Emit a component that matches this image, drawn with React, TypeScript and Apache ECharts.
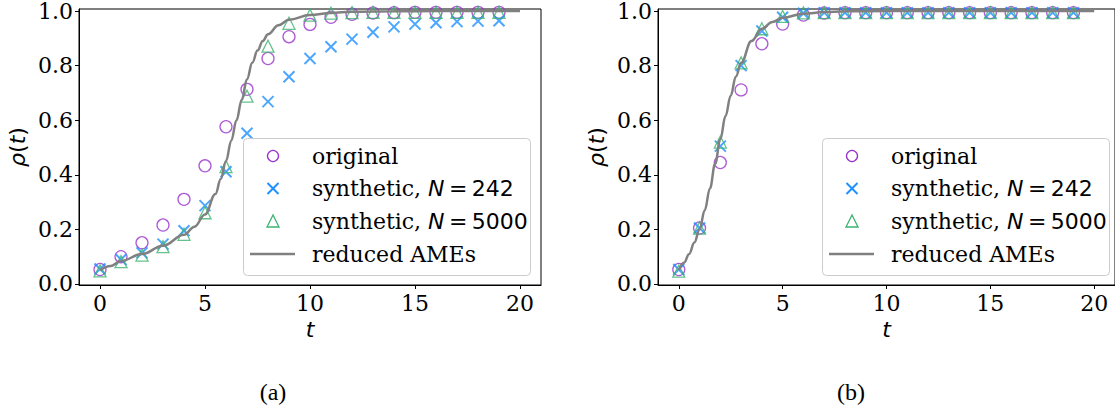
import React, { useEffect, useRef } from "react";
import * as echarts from "echarts";

const tValues = [0, 1, 2, 3, 4, 5, 6, 7, 8, 9, 10, 11, 12, 13, 14, 15, 16, 17, 18, 19];

const originalA = [0.053, 0.1, 0.151, 0.216, 0.31, 0.433, 0.576, 0.713, 0.826, 0.906, 0.951, 0.977, 0.988, 0.993, 0.994, 0.995, 0.995, 0.995, 0.995, 0.995];
const synth242A = [0.055, 0.09, 0.114, 0.146, 0.195, 0.287, 0.411, 0.552, 0.668, 0.759, 0.826, 0.869, 0.897, 0.922, 0.942, 0.952, 0.957, 0.961, 0.963, 0.964];
const synth5000A = [0.048, 0.082, 0.106, 0.137, 0.182, 0.261, 0.43, 0.688, 0.871, 0.955, 0.985, 0.992, 0.994, 0.995, 0.995, 0.995, 0.995, 0.995, 0.995, 0.995];
const amesA: [number, number][] = [
  [0, 0.05], [0.5, 0.066], [1, 0.084], [2, 0.11], [3, 0.14], [4, 0.18], [4.5, 0.21], [5, 0.255],
  [5.5, 0.33], [5.75, 0.385], [6, 0.45], [6.25, 0.525], [6.5, 0.6], [6.75, 0.675], [7, 0.75],
  [7.25, 0.81], [7.5, 0.855], [7.75, 0.89], [8, 0.915], [8.5, 0.948], [9, 0.968], [10, 0.985],
  [11, 0.993], [12, 0.997], [14, 0.999], [16, 1.0], [20, 1.0],
];

const originalB = [0.053, 0.205, 0.445, 0.711, 0.88, 0.952, 0.985, 0.993, 0.994, 0.994, 0.994, 0.994, 0.994, 0.994, 0.994, 0.994, 0.994, 0.994, 0.994, 0.994];
const synth242B = [0.053, 0.205, 0.505, 0.8, 0.927, 0.977, 0.992, 0.994, 0.994, 0.994, 0.994, 0.994, 0.994, 0.994, 0.994, 0.994, 0.994, 0.994, 0.994, 0.994];
const synth5000B = [0.047, 0.205, 0.52, 0.81, 0.935, 0.98, 0.993, 0.994, 0.994, 0.994, 0.994, 0.994, 0.994, 0.994, 0.994, 0.994, 0.994, 0.994, 0.994, 0.994];
const amesB: [number, number][] = [
  [0, 0.05], [0.25, 0.078], [0.5, 0.11], [0.75, 0.152], [1, 0.2], [1.25, 0.27], [1.5, 0.35],
  [1.75, 0.44], [2, 0.53], [2.25, 0.615], [2.5, 0.69], [2.75, 0.76], [3, 0.81], [3.5, 0.89],
  [4, 0.935], [4.5, 0.96], [5, 0.975], [6, 0.99], [7, 0.996], [8, 0.999], [10, 1.0], [20, 1.0],
];

const xTicks = [0, 5, 10, 15, 20];
const yTicks = [0, 0.2, 0.4, 0.6, 0.8, 1.0];
const legendNames = ["original", "synthetic, N = 242", "synthetic, N = 5000", "reduced AMEs"];
const sampleSizes = ["242", "5000"];
const panelLabels = ["(a)", "(b)"];

const PURPLE = "#9932CC";
const BLUE = "#1E90FF";
const GREEN = "#3CB371";
const GREY = "#808080";

const TICK_FONT = "DejaVu Serif";
const FS = 22;

export default function App() {
  const ref = useRef<HTMLDivElement>(null);
  useEffect(() => {
    if (!ref.current) return;
    const chart = echarts.init(ref.current, null, { renderer: "svg" });

    const grids = [
      { left: 79, right: 1115 - 541, top: 9, bottom: 407 - 285 },
      { left: 658, right: 1115 - 1120, top: 9, bottom: 407 - 285 },
    ];

    const mkX = (i: number) => ({
      type: "value",
      gridIndex: i,
      min: -1,
      max: 21,
      name: "t",
      nameLocation: "middle",
      nameGap: 30,
      nameTextStyle: { fontFamily: "DejaVu Sans", fontStyle: "italic", fontSize: FS, color: "#000" },
      axisLine: { show: true, onZero: false, lineStyle: { color: "#000", width: 1 } },
      axisTick: { show: true, customValues: xTicks, length: 4, lineStyle: { color: "#000" } },
      axisLabel: { customValues: xTicks, fontFamily: TICK_FONT, fontSize: FS, color: "#000", margin: 7 },
      splitLine: { show: false },
    });
    const mkY = (i: number) => ({
      type: "value",
      gridIndex: i,
      min: -0.0037,
      max: 1.0073,
      name: "{i|ρ}{n|(}{i|t}{n|)}",
      nameLocation: "middle",
      nameGap: 51,
      nameTextStyle: {
        rich: {
          i: { fontFamily: "DejaVu Sans", fontStyle: "italic", fontSize: FS, color: "#000" },
          n: { fontFamily: "DejaVu Sans", fontSize: FS, color: "#000" },
        },
      },
      axisLine: { show: true, onZero: false, lineStyle: { color: "#000", width: 1 } },
      axisTick: { show: true, customValues: yTicks, length: 4, lineStyle: { color: "#000" } },
      axisLabel: {
        customValues: yTicks,
        fontFamily: TICK_FONT,
        fontSize: FS,
        color: "#000",
        margin: 6,
        formatter: (v: number) => v.toFixed(1),
      },
      splitLine: { show: false },
    });

    const scatter = (name: string, data: number[], i: number, kind: string) => {
      const base: any = {
        type: "scatter",
        name,
        xAxisIndex: i,
        yAxisIndex: i,
        data: data.map((v, k) => [tValues[k], v]),
        z: 3,
      };
      if (kind === "circle") {
        base.symbol = "circle";
        base.symbolSize = 12;
        base.itemStyle = { color: "none", borderColor: PURPLE, borderWidth: 1.3 };
      } else if (kind === "x") {
        base.symbol = "path://M0,0L10,10M10,0L0,10";
        base.symbolSize = 11;
        base.itemStyle = { color: "none", borderColor: BLUE, borderWidth: 2 };
      } else {
        base.symbol = "triangle";
        base.symbolSize = 12;
        base.itemStyle = { color: "none", borderColor: GREEN, borderWidth: 1.3 };
      }
      return base;
    };
    const line = (data: [number, number][], i: number) => ({
      type: "line",
      name: legendNames[3],
      xAxisIndex: i,
      yAxisIndex: i,
      data,
      showSymbol: false,
      symbol: "none",
      smooth: 0.4,
      smoothMonotone: "x",
      lineStyle: { color: GREY, width: 2.5 },
      z: 4,
    });

    const legendGraphic = (dx: number) => {
      const rows = [156, 188.5, 221, 254];
      const mx = 273 + dx;
      const tx = 312 + dx;
      const textStyleFor = (idx: number) => {
        const name = legendNames[idx];
        if (idx === 1 || idx === 2) {
          const num = sampleSizes[idx - 1];
          return {
            text: `{s|synthetic, }{m|N}{r|\u2009=\u2009${num}}`,
            rich: {
              s: { fontFamily: "DejaVu Serif", fontSize: FS, fill: "#000" },
              m: { fontFamily: "DejaVu Sans", fontStyle: "italic", fontSize: FS, fill: "#000" },
              r: { fontFamily: "DejaVu Sans", fontSize: FS, fill: "#000" },
            },
          };
        }
        return { text: name, fontFamily: "DejaVu Serif", fontSize: FS, fill: "#000" };
      };
      const els: any[] = [
        {
          type: "rect",
          shape: { x: 243.5 + dx, y: 138.5, width: 287, height: 137, r: 4 },
          style: { fill: "rgba(255,255,255,0.8)", stroke: "#cccccc", lineWidth: 1 },
          z: 100,
        },
        {
          type: "circle",
          shape: { cx: mx, cy: rows[0], r: 5.5 },
          style: { fill: "none", stroke: PURPLE, lineWidth: 1.3 },
          z: 101,
        },
        {
          type: "line",
          shape: { x1: mx - 5.5, y1: rows[1] - 5.5, x2: mx + 5.5, y2: rows[1] + 5.5 },
          style: { stroke: BLUE, lineWidth: 2 },
          z: 101,
        },
        {
          type: "line",
          shape: { x1: mx - 5.5, y1: rows[1] + 5.5, x2: mx + 5.5, y2: rows[1] - 5.5 },
          style: { stroke: BLUE, lineWidth: 2 },
          z: 101,
        },
        {
          type: "polygon",
          shape: { points: [[mx, rows[2] - 6], [mx - 6, rows[2] + 6], [mx + 6, rows[2] + 6]] },
          style: { fill: "none", stroke: GREEN, lineWidth: 1.3 },
          z: 101,
        },
        {
          type: "line",
          shape: { x1: 250 + dx, y1: rows[3], x2: 295 + dx, y2: rows[3] },
          style: { stroke: GREY, lineWidth: 2.5 },
          z: 101,
        },
      ];
      rows.forEach((y, idx) => {
        els.push({
          type: "text",
          x: tx,
          y,
          style: { ...textStyleFor(idx), textAlign: "left", textVerticalAlign: "middle" },
          z: 101,
        });
      });
      return els;
    };

    const option: any = {
      animation: false,
      backgroundColor: "#fff",
      grid: grids.map((g) => ({ ...g, show: true, borderColor: "#000", borderWidth: 1, containLabel: false })),
      xAxis: [mkX(0), mkX(1)],
      yAxis: [mkY(0), mkY(1)],
      series: [
        scatter(legendNames[0], originalA, 0, "circle"),
        scatter(legendNames[1], synth242A, 0, "x"),
        scatter(legendNames[2], synth5000A, 0, "triangle"),
        line(amesA, 0),
        scatter(legendNames[0], originalB, 1, "circle"),
        scatter(legendNames[1], synth242B, 1, "x"),
        scatter(legendNames[2], synth5000B, 1, "triangle"),
        line(amesB, 1),
      ],
      graphic: [
        ...legendGraphic(0),
        ...legendGraphic(579),
        {
          type: "text",
          x: 273,
          y: 392,
          style: { text: panelLabels[0], fontFamily: "Liberation Serif", fontSize: 24, fill: "#000", textAlign: "center", textVerticalAlign: "middle" },
        },
        {
          type: "text",
          x: 851,
          y: 392,
          style: { text: panelLabels[1], fontFamily: "Liberation Serif", fontSize: 24, fill: "#000", textAlign: "center", textVerticalAlign: "middle" },
        },
      ],
    };
    chart.setOption(option);
    return () => chart.dispose();
  }, []);
  return <div ref={ref} style={{ position: "absolute", left: 0, top: 0, width: 1115, height: 407 }} />;
}
